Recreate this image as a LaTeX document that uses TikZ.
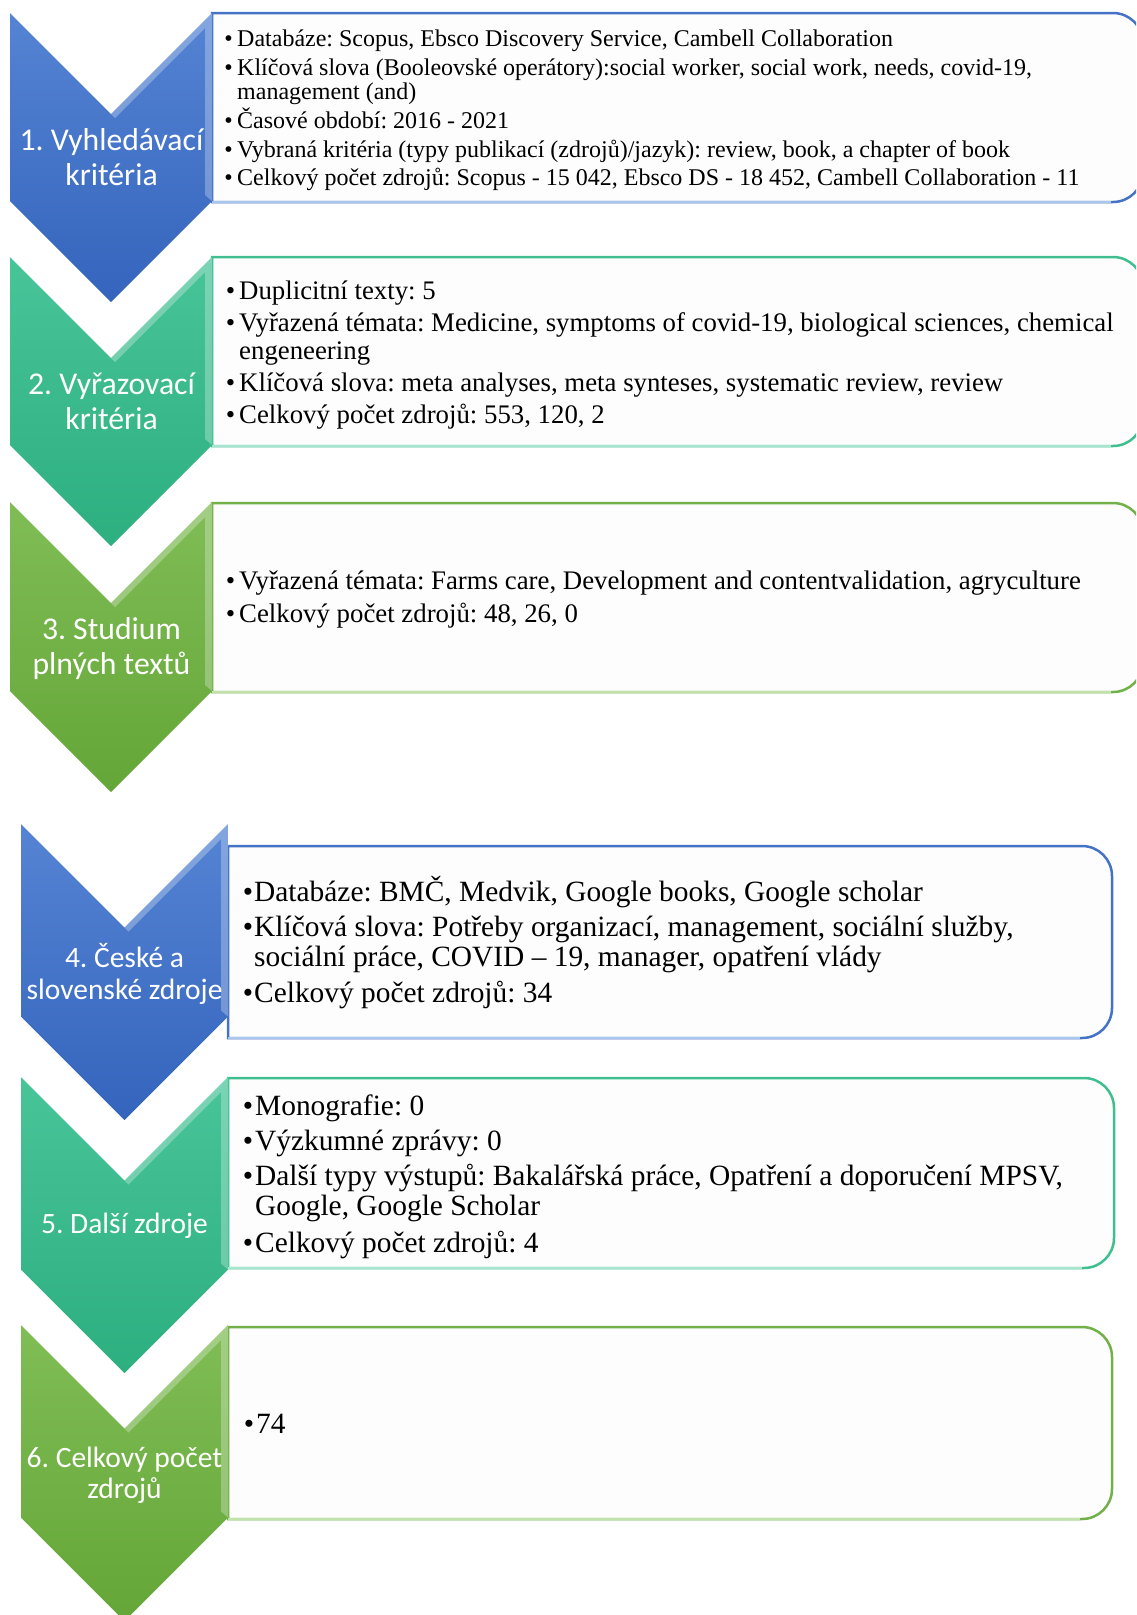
\documentclass[tikz,border=0pt]{standalone}
\usepackage{fontspec}
\setmainfont{Liberation Serif}
\newfontfamily\lblfont{Carlito}
\frenchspacing

\definecolor{blueA}{HTML}{5584D4}
\definecolor{blueB}{HTML}{3464BC}
\definecolor{blueL}{HTML}{4472C4}
\definecolor{blueF}{HTML}{A8C6EE}
\definecolor{tealA}{HTML}{48C499}
\definecolor{tealB}{HTML}{2DAF80}
\definecolor{tealL}{HTML}{3FBF90}
\definecolor{tealF}{HTML}{A6E6CF}
\definecolor{grnA}{HTML}{80BD56}
\definecolor{grnB}{HTML}{64A637}
\definecolor{grnL}{HTML}{72B04A}
\definecolor{grnF}{HTML}{C2E2AC}
\definecolor{boxfill}{HTML}{FDFDFD}

% chevron: #1 x left, #2 x right, #3 y top, #4 height, #5 top colour, #6 bottom colour
\newcommand\chevron[6]{%
  \pgfmathsetmacro\cxm{(#1+#2)/2}%
  \pgfmathsetmacro\cd{(#2-#1)/2}%
  \pgfmathsetmacro\cyr{#3+#4-\cd}%
  \path[top color=#5, bottom color=#6]
    (#1,#3) -- (\cxm,#3+\cd) -- (#2,#3) -- (#2,\cyr) -- (\cxm,#3+#4) -- (#1,\cyr) -- cycle;
  \fill[white, opacity=.28]
    (\cxm,#3+\cd) -- (#2,#3) -- (#2,\cyr) -- (#2-7,\cyr-6) -- (#2-7,#3+15) -- (\cxm+4,#3+\cd+4) -- cycle;
}
% panel with rounded right side: #1 x0, #2 x1, #3 y0, #4 y1, #5 line colour, #6 faded bottom colour
\newcommand\panel[6]{%
  \filldraw[fill=boxfill, draw=#5, line width=2.5]
    (#1,#3) -- (#2-30,#3) arc[start angle=-90, end angle=0, radius=30]
    -- (#2,#4-30) arc[start angle=0, end angle=90, radius=30] -- (#1,#4) -- cycle;
  \draw[#6, line width=2.5] (#1,#4) -- (#2-32,#4);
}

\tikzset{
  lbl/.style={anchor=base, inner sep=0, text=white, font=\lblfont\fontsize{31.7}{36}\selectfont},
  lblb/.style={lbl, font=\lblfont\fontsize{29.5}{33}\selectfont},
  ln/.style={anchor=base west, inner sep=0, text=black},
  bul/.style={anchor=base, inner sep=0, text=black},
  fa/.style={font=\fontsize{24.0}{28}\selectfont},
  fb/.style={font=\fontsize{26.8}{30}\selectfont},
  fc/.style={font=\fontsize{29.4}{33}\selectfont},
}

\begin{document}
\begin{tikzpicture}[x=1pt, y=-1pt]
\useasboundingbox (0,0) rectangle (1136,1615);
\clip (0,0) rectangle (1136,1615);

% ---------- panels ----------
\panel{212}{1143}{13}{202}{blueL}{blueF}
\panel{212}{1143}{257}{446}{tealL}{tealF}
\panel{212}{1143}{503}{692}{grnL}{grnF}
\panel{228}{1112}{846}{1038}{blueL}{blueF}
\panel{228}{1114}{1078}{1268}{tealL}{tealF}
\panel{228}{1112}{1327}{1519}{grnL}{grnF}

% ---------- chevrons ----------
\chevron{10}{212}{13}{289}{blueA}{blueB}
\chevron{10}{212}{257}{289}{tealA}{tealB}
\chevron{10}{212}{502}{290}{grnA}{grnB}
\chevron{21}{228}{824}{296}{blueA}{blueB}
\chevron{21}{228}{1077}{296}{tealA}{tealB}
\chevron{21}{228}{1325}{296}{grnA}{grnB}

% ---------- chevron labels ----------
\node[lbl] (c1a) at (111.5,150) {1. Vyhledávací};
\node[lbl] (c1b) at (111.5,185) {kritéria};
\node[lbl] (c2a) at (111.5,394) {2. Vyřazovací};
\node[lbl] (c2b) at (111.5,429) {kritéria};
\node[lbl] (c3a) at (111.5,639) {3. Studium};
\node[lbl] (c3b) at (111.5,674) {plných textů};
\node[lblb] (c4a) at (124.5,967) {4. České a};
\node[lblb] (c4b) at (124.5,999) {slovenské zdroje};
\node[lblb] (c5a) at (124.5,1233) {5. Další zdroje};
\node[lblb] (c6a) at (124.5,1467) {6. Celkový počet};
\node[lblb] (c6b) at (124.5,1498) {zdrojů};

% ---------- panel 1 ----------
\begin{scope}[every node/.append style={fa}]
\node[bul] (b1a) at (228.5,46.5) {•};
\node[ln] (t1a) at (237,46.5) {Databáze: Scopus, Ebsco Discovery Service, Cambell Collaboration};
\node[bul] (b1b) at (228.5,75.5) {•};
\node[ln] (t1b) at (237,75.5) {Klíčová slova (Booleovské operátory):social worker, social work, needs, covid-19,};
\node[ln] (t1c) at (237,99.5) {management (and)};
\node[bul] (b1d) at (228.5,128.5) {•};
\node[ln] (t1d) at (237,128.5) {Časové období: 2016 - 2021};
\node[bul] (b1e) at (228.5,157) {•};
\node[ln] (t1e) at (237,157) {Vybraná kritéria (typy publikací (zdrojů)/jazyk): review, book, a chapter of book};
\node[bul] (b1f) at (228.5,185.5) {•};
\node[ln] (t1f) at (237,185.5) {Celkový počet zdrojů: Scopus - 15 042, Ebsco DS - 18 452, Cambell Collaboration - 11};
\end{scope}

% ---------- panel 2 ----------
\begin{scope}[every node/.append style={fb}]
\node[bul] (b2a) at (230.5,299) {•};
\node[ln] (t2a) at (239,299) {Duplicitní texty: 5};
\node[bul] (b2b) at (230.5,331) {•};
\node[ln] (t2b) at (239,331) {Vyřazená témata: Medicine, symptoms of covid-19, biological sciences, chemical};
\node[ln] (t2c) at (239,359) {engeneering};
\node[bul] (b2d) at (230.5,391) {•};
\node[ln] (t2d) at (239,391) {Klíčová slova: meta analyses, meta synteses, systematic review, review};
\node[bul] (b2e) at (230.5,423) {•};
\node[ln] (t2e) at (239,423) {Celkový počet zdrojů: 553, 120, 2};
\end{scope}

% ---------- panel 3 ----------
\begin{scope}[every node/.append style={fb}]
\node[bul] (b3a) at (230.5,589) {•};
\node[ln] (t3a) at (239,589) {Vyřazená témata: Farms care, Development and contentvalidation, agryculture};
\node[bul] (b3b) at (230.5,622) {•};
\node[ln] (t3b) at (239,622) {Celkový počet zdrojů: 48, 26, 0};
\end{scope}

% ---------- panel 4 ----------
\begin{scope}[every node/.append style={fc}]
\node[bul] (b4a) at (248,901) {•};
\node[ln] (t4a) at (254,901) {Databáze: BMČ, Medvik, Google books, Google scholar};
\node[bul] (b4b) at (248,936) {•};
\node[ln] (t4b) at (254,936) {Klíčová slova: Potřeby organizací, management, sociální služby,};
\node[ln] (t4c) at (254,966) {sociální práce, COVID – 19, manager, opatření vlády};
\node[bul] (b4d) at (248,1002) {•};
\node[ln] (t4d) at (254,1002) {Celkový počet zdrojů: 34};
\end{scope}

% ---------- panel 5 ----------
\begin{scope}[every node/.append style={fc}]
\node[bul] (b5a) at (248,1115) {•};
\node[ln] (t5a) at (255,1115) {Monografie: 0};
\node[bul] (b5b) at (248,1150) {•};
\node[ln] (t5b) at (255,1150) {Výzkumné zprávy: 0};
\node[bul] (b5c) at (248,1185) {•};
\node[ln] (t5c) at (255,1185) {Další typy výstupů: Bakalářská práce, Opatření a doporučení MPSV,};
\node[ln] (t5d) at (255,1215) {Google, Google Scholar};
\node[bul] (b5e) at (248,1252) {•};
\node[ln] (t5e) at (255,1252) {Celkový počet zdrojů: 4};
\end{scope}

% ---------- panel 6 ----------
\begin{scope}[every node/.append style={fc}]
\node[bul] (b6a) at (249,1433) {•};
\node[ln] (t6a) at (256,1433) {74};
\end{scope}
\end{tikzpicture}
\end{document}
